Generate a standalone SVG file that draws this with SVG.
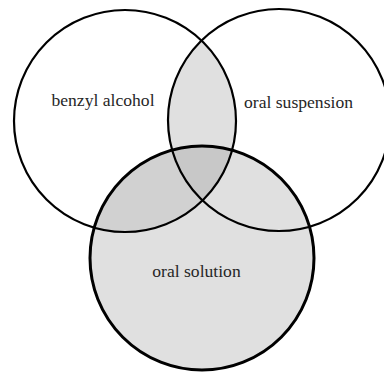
<svg xmlns="http://www.w3.org/2000/svg" width="384" height="375" viewBox="0 0 384 375">
<style>
.ring{fill:none;stroke:#000;stroke-width:2.2}
.thick{stroke-width:3}
.lbl{font-family:"Liberation Serif","Times New Roman",serif;font-size:17.6px;fill:#262626;text-anchor:middle}
</style>
<defs>
<clipPath id="cL"><circle cx="125" cy="121" r="111"/></clipPath>
<clipPath id="cR"><circle cx="279" cy="120" r="111"/></clipPath>
</defs>
<rect width="384" height="375" fill="#fff"/>
<g id="fills">
<circle cx="202" cy="258" r="112" fill="#e0e0e0"/>
<circle cx="279" cy="120" r="111" fill="#e0e0e0" clip-path="url(#cL)"/>
<circle cx="202" cy="258" r="112" fill="#d1d1d1" clip-path="url(#cL)"/>
<g clip-path="url(#cR)"><circle cx="202" cy="258" r="112" fill="#c8c8c8" clip-path="url(#cL)"/></g>
</g>
<g id="benzyl-alcohol">
<circle class="ring" cx="125" cy="121" r="111"/>
<text class="lbl" x="103" y="106">benzyl alcohol</text>
</g>
<g id="oral-suspension">
<circle class="ring" cx="279" cy="120" r="111"/>
<text class="lbl" x="298.5" y="108">oral suspension</text>
</g>
<g id="oral-solution">
<circle class="ring thick" cx="202" cy="258" r="112"/>
<text class="lbl" x="196.5" y="277">oral solution</text>
</g>
<g id="connectors"/>
</svg>
